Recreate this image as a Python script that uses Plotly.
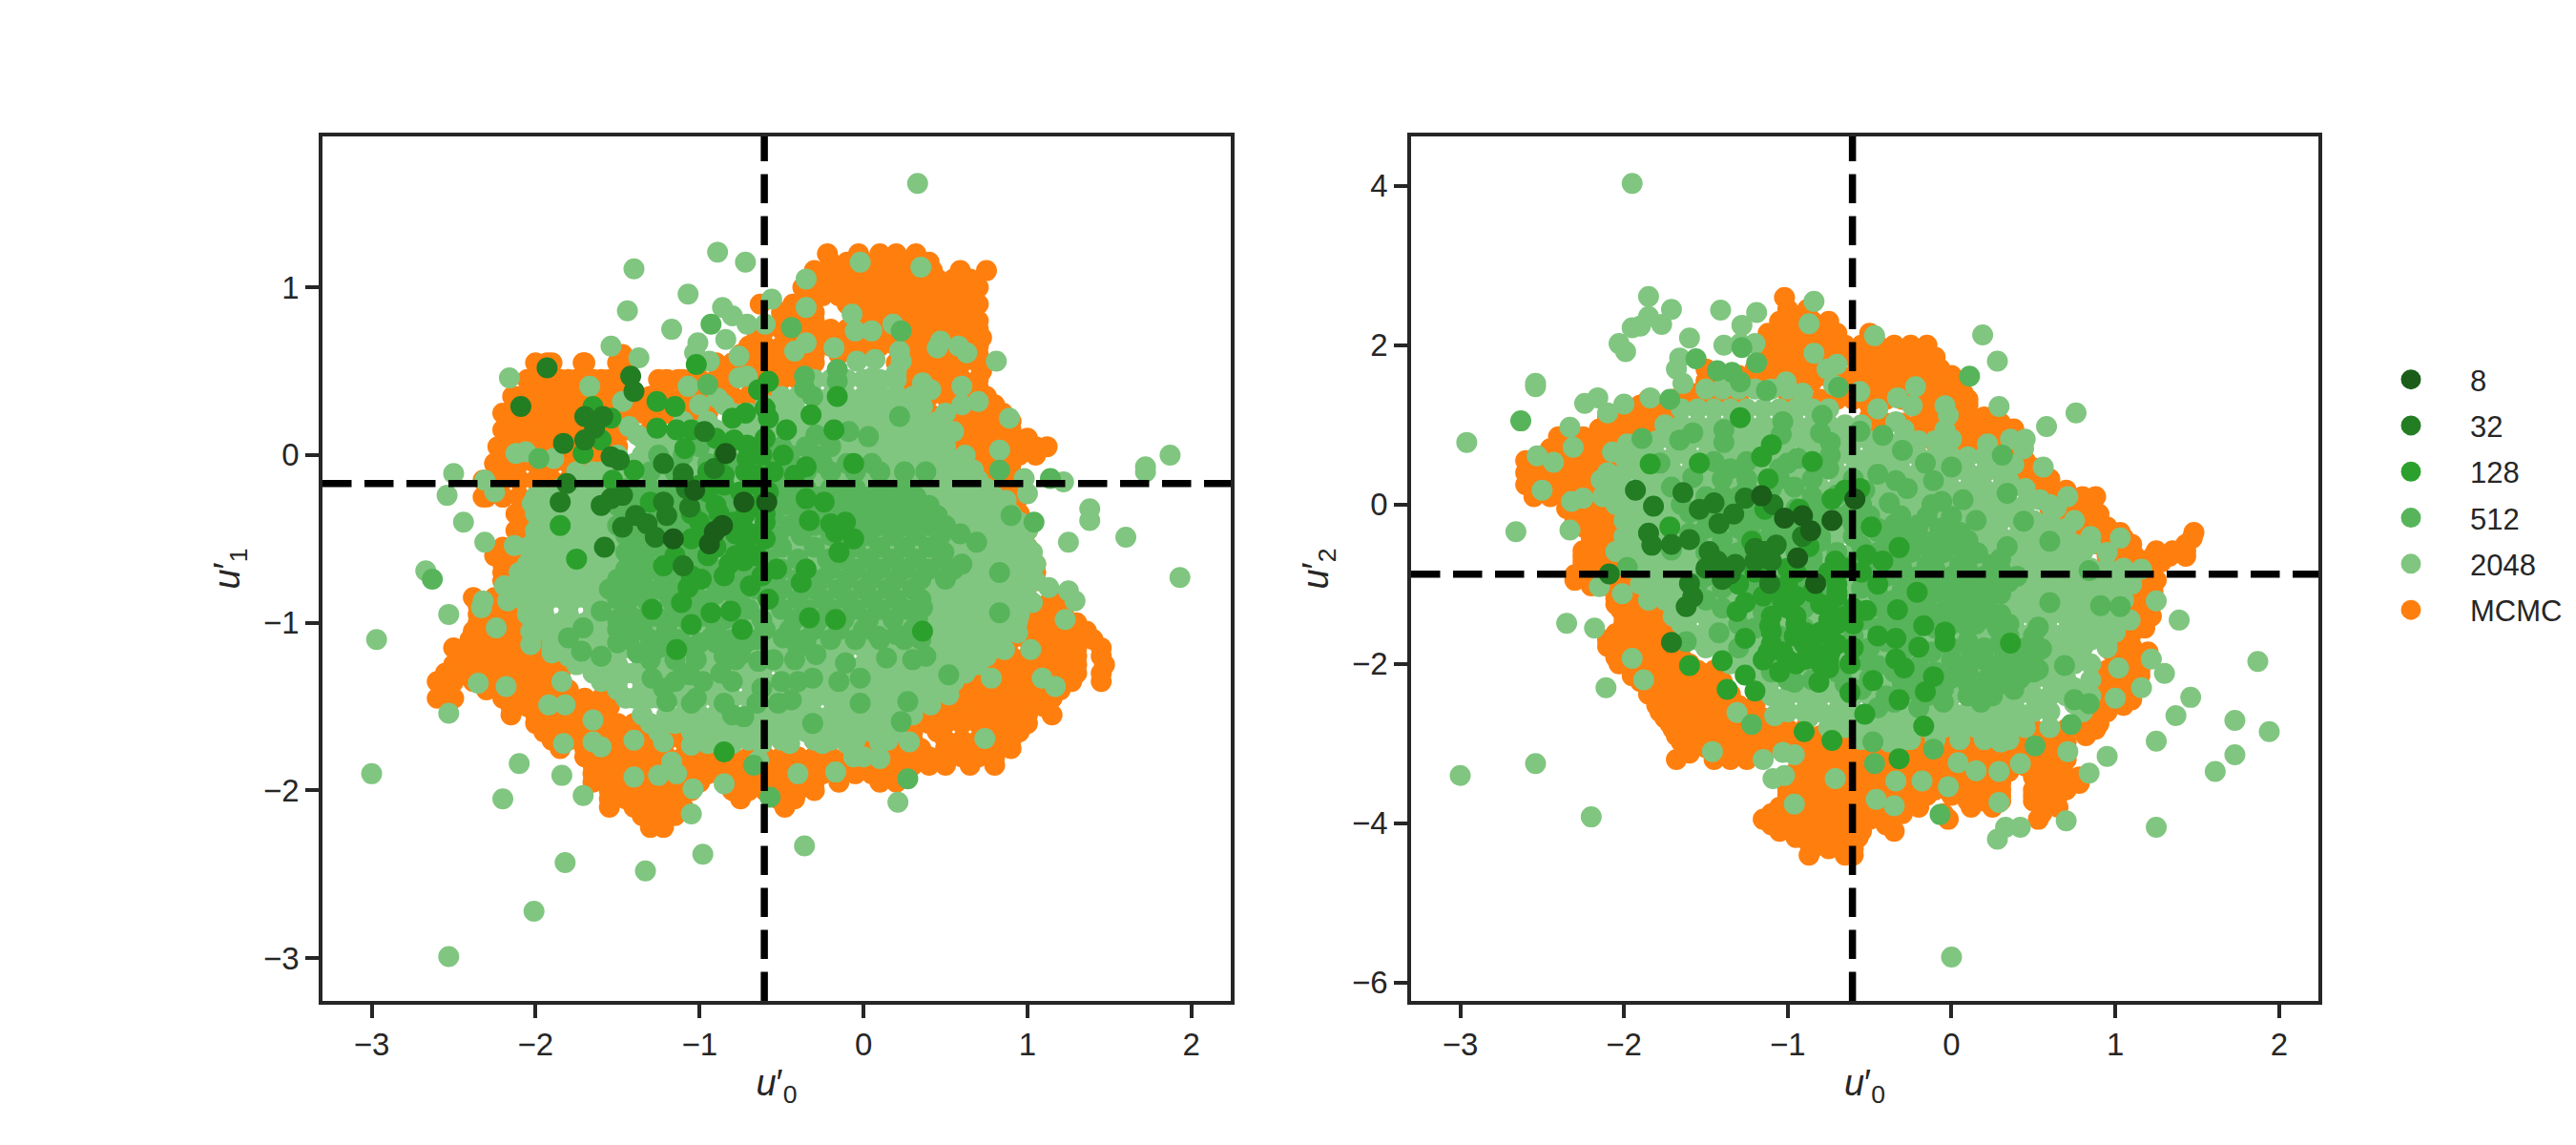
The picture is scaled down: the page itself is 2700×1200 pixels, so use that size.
import plotly.graph_objects as go

# Sample clouds are stored as rows: (y value, [x values at that y]).
COLORS = {"8": "#1a5e1a", "32": "#237d23", "128": "#2ca02c", "512": "#57b45a", "2048": "#80c680", "MCMC": "#ff7f0e"}
series_order = ["MCMC", "2048", "512", "128", "32", "8"]
legend_order = ["8", "32", "128", "512", "2048", "MCMC"]

x_ticks = [-3, -2, -1, 0, 1, 2]
y_ticks_left = [-3, -2, -1, 0, 1]
y_ticks_right = [-6, -4, -2, 0, 2, 4]
x_range = [-3.30, 2.24]
y_range_left = [-3.255, 1.90]
y_range_right = [-6.23, 4.62]
ref_u0 = -0.605
ref_u1 = -0.17
ref_u2 = -0.875

# ---- u0 vs u1 ----
mcmc_left = [
 (1.2,[-.22,-.03,.1,.2,.32]),
 (1.1,[-.3,-.22,-.13,-.04,.05,.14,.23,.32,.42,.59,.75]),
 (1.0,[-.37,-.28,-.18,-.1,0,.1,.2,.3,.4,.48,.62,.7]),
 (.9,[-.63,-.43,-.33,-.1,-.02,.08,.18,.28,.38,.48,.62,.7]),
 (.8,[-.5,-.4,-.3,-.05,0,.1,.2,.3,.4,.5,.6,.7]),
 (.7,[-.65,-.45,-.3,-.2,.1,.3,.4,.5,.6,.72]),
 (.6,[-1.47,-.75,-.62,-.5,-.3,-.15,.35,.45,.55,.7]),
 (.55,[-1.93,-1.71,-1.45]),
 (.5,[-.8,-.65,-.5,-.35,.3,.4,.5,.72]),
 (.45,[-2.05,-1.95,-1.85,-1.75,-1.65,-1.55,-1.45,-1.25,-1.13,-1.0]),
 (.4,[-.85,-.55,.3,.5,.7]),
 (.35,[-2.14,-2.04,-1.94,-1.84,-1.74,-1.6,-1.5,-1.3,-1.2,-1.1,-1,-.85,-.7]),
 (.3,[.55,.7,.8]),
 (.25,[-2.2,-2.1,-2,-1.9,-1.8,-1.7,-1.4,-1.3,-1.2,-1.1,-.95]),
 (.2,[.25,.6,.75,.9]),
 (.15,[-2.2,-2.1,-2,-1.9,-1.8,-1.7,-1.45,-1.3]),
 (.1,[.65,.8,.9,1.0]),
 (.05,[-2.23,-2.1,-2,-1.9,-1.75,-1.5,-1.3,-1.2,1.05,1.12]),
 (0,[.3,.7,.85,.95,1.05]),
 (-.05,[-2.25,-2.15,-1.95,-1.8,-1.65]),
 (-.1,[.7,.8,.9]),
 (-.15,[-2.32,-2.2,-2.1,-1.95,-1.8,-1.65]),
 (-.25,[-2.32,-2.2,-2.1,-1.8,.85,.95]),
 (-.35,[-2.12,-2.05,.85,.95]),
 (-.45,[-2.12,-2,.85,.95]),
 (-.55,[.9,1.0]),
 (-.6,[-2.25,-2.15,-2.05]),
 (-.7,[-2.2,-2.1,-1.95,.95,1.05]),
 (-.85,[-2.38,-2.25,-2.1,1.15]),
 (-.95,[-2.35,-2.2,-2.05,1.1,1.22]),
 (-1.05,[-2.38,-2.28,-2.13,-2.03,1.1,1.2,1.36]),
 (-1.15,[-2.5,-2.4,-2.25,-2.15,-2.0,1.1,1.2,1.3,1.45]),
 (-1.25,[-2.5,-2.4,-2.3,-2.2,-2.1,-2,-1.9,.9,1,1.1,1.2,1.3,1.47]),
 (-1.35,[-2.6,-2.5,-2.38,-2.28,-2.2,-2.1,-1.95,-1.85,.7,.8,.9,1,1.1,1.2,1.27,1.45]),
 (-1.45,[-2.6,-2.5,-2.2,-2.1,-1.95,-1.85,-1.7,-1.6,.55,.65,.75,.85,.95,1.05,1.15]),
 (-1.55,[-2.15,-2.0,-1.9,-1.8,-1.7,-1.6,.5,.6,.7,.8,.9,1,1.15]),
 (-1.65,[-1.95,-1.85,-1.75,-1.6,-1.5,-1.4,-.7,.3,.45,.75,.85,.95]),
 (-1.75,[-1.85,-1.7,-1.5,-1.4,-1.3,-.9,0,.1,.2,.35,.5,.6,.7,.8,.9]),
 (-1.85,[-1.65,-1.55,-1.45,-1.3,-1,-.9,-.75,-.55,-.45,-.3,-.2,-.05,.1,.3,.4,.5,.65,.8]),
 (-1.95,[-1.65,-1.55,-1.4,-1.3,-1.2,-1.1,-1,-.8,-.7,-.6,-.5,-.4,-.3,-.15,.1,.2]),
 (-2.05,[-1.55,-1.45,-1.35,-1.25,-1.15,-.75,-.52,-.42]),
 (-2.15,[-1.35,-1.25,-1.15]),
 (-2.22,[-1.3,-1.22]),
]
mcmc_left_dense = [
 (1.15,[-.2,-.1,0,.1,.2,.3,.4]),
 (1.05,[-.25,-.15,-.05,.05,.15,.25,.35,.45,.55,.65]),
 (.95,[-.35,-.25,-.15,-.05,.05,.15,.25,.35,.45,.55,.65]),
 (.85,[-.5,-.4,-.3,-.05,.05,.15,.25,.35,.45,.55,.65]),
 (.75,[-.6,-.5,-.4,-.3,-.2,-.1,0,.1,.2,.3,.4,.5,.6,.7]),
 (.65,[-.7,-.6,-.5,-.4,-.3,-.2,-.1,0,.1,.2,.3,.4,.5,.6,.7]),
 (.55,[-2,-1.9,-1.7,-1.5,-1,-.9,-.8,-.7,-.6,-.5,-.4,-.3,.2,.3,.4,.5,.6,.7]),
 (.45,[-2,-1.9,-1.8,-1.7,-1.6,-1.5,-1.2,-1.1,-1,-.9,-.8,-.7,-.6,-.5,-.4,.3,.4,.5,.6,.7]),
 (.35,[-2.1,-2,-1.9,-1.8,-1.7,-1.6,-1.5,-1.4,-1.3,-1.2,-1.1,-1,-.9,-.8,-.7,-.6,.4,.5,.6,.7,.75]),
 (.25,[-2.15,-2.05,-1.95,-1.85,-1.75,-1.65,-1.55,-1.45,-1.35,-1.25,-1.15,-1.05,.4,.5,.6,.7,.8,.85]),
 (.15,[-2.15,-2.05,-1.95,-1.85,-1.75,-1.65,-1.55,-1.45,.5,.6,.7,.8,.9]),
 (.05,[-2.2,-2.05,-1.95,-1.85,-1.75,-1.65,-1.55,.5,.6,.7,.8,.9,1]),
 (-.05,[-2.25,-2.1,-2,-1.9,-1.7,-1.6,.6,.7,.8,.9]),
 (-.15,[-2.3,-2.2,-2.1,-2,-1.9,-1.7,-1.6,.7,.8,.9]),
 (-.25,[-2.3,-2.2,-2.1,-2,.8,.9]),
 (-.35,[-2.1,-2,.85,.95]),
 (-.45,[-2.1,-2,.9,1]),
 (-.55,[-2.2,-2.1,-2,.9,1]),
 (-.65,[-2.2,-2.1,-2,.95,1.05]),
 (-.75,[-2.2,-2.1,-2,1,1.05]),
 (-.9,[-2.35,-2.25,-2.15,-2.05,1,1.1,1.2]),
 (-1.0,[-2.35,-2.25,-2.15,-2.05,1,1.1,1.2,1.3]),
 (-1.1,[-2.4,-2.3,-2.2,-2.1,-2,.9,1,1.05,1.15,1.25,1.4]),
 (-1.2,[-2.45,-2.35,-2.25,-2.15,-2.05,-1.95,.8,.9,1,1.1,1.2,1.3,1.45]),
 (-1.3,[-2.55,-2.45,-2.35,-2.25,-2.15,-2.05,-1.95,-1.85,.7,.8,.9,1,1.1,1.2,1.3,1.45]),
 (-1.4,[-2.55,-2.3,-2.2,-2.1,-2,-1.9,-1.8,.6,.7,.8,.9,1,1.1,1.2]),
 (-1.5,[-2.15,-2.05,-1.95,-1.85,-1.75,-1.65,-1.55,.4,.5,.6,.7,.8,.9,1,1.1]),
 (-1.6,[-2,-1.9,-1.8,-1.7,-1.6,-1.5,-1.4,.3,.4,.5,.6,.7,.8,.9,1]),
 (-1.7,[-1.9,-1.8,-1.7,-1.6,-1.5,-1.4,-1.3,-1.2,-1.1,-.9,-.7,-.5,-.3,-.1,.1,.3,.5,.6,.7,.8,.9]),
 (-1.8,[-1.7,-1.6,-1.5,-1.4,-1.3,-1.2,-1.1,-1,-.9,-.8,-.7,-.6,-.5,-.4,-.3,-.2,-.1,0,.1,.2,.3,.4,.5,.6,.7,.8]),
 (-1.9,[-1.65,-1.55,-1.45,-1.35,-1.25,-1.15,-1.05,-.95,-.85,-.75,-.65,-.55,-.45,-.35,-.25,-.15,-.05,.05,.15,.25]),
 (-2.0,[-1.55,-1.45,-1.35,-1.25,-1.15,-1.05,-.8,-.7,-.6,-.5,-.4,-.3]),
 (-2.1,[-1.55,-1.4,-1.3,-1.2,-1.1,-.48]),
 (-2.2,[-1.25]),
]
s2048_left = [
 (1.62,[.33]),(1.21,[-.89]),(1.15,[-.72,-.02]),(1.12,[.35]),(1.11,[-1.4]),(1.05,[-.35]),
 (.96,[-1.07]),(.93,[-.56]),(.88,[-.86,-.35]),(.86,[-1.44]),(.84,[-.07]),(.83,[-.8]),
 (.78,[-.71,-.6,.18]),(.75,[-1.17]),(.74,[-.05,.05]),(.69,[-.84]),(.67,[-1.01,-.35]),(.68,[.47]),
 (.65,[-1.54,.58]),(.64,[-.18,.45]),(.62,[-.42,.22]),(.61,[-1.03,.63]),(.59,[-.76]),(.58,[-1.37]),
 (.57,[.07]),(.56,[-.94,-.04,.23,.81]),(.49,[.2]),(.47,[-.71]),(.46,[-2.16,-.76,.05,.18]),
 (.43,[.36]),(.41,[-1.67,-1.07,.6]),(.39,[.41]),(.38,[.09]),(.36,[.2]),(.34,[-.89]),
 (.32,[-1.47,.7]),(.3,[-1.0,-.85,-.6,-.45,-.25,-.1,.05,.2,.6]),(.29,[.36]),(.25,[.5]),(.22,[.89]),
 (.2,[-1.1,-.95,-.8,-.6,-.45,-.3,-.15,0,.15,.3,.45]),(.17,[-1.43]),(.14,[.55]),
 (.12,[-1.38]),(.1,[-1.35,-1.2,-1.05,-.9,-.75,-.6,-.45,-.3,-.15,0,.15,.3,.45]),
 (.06,[.4]),(.03,[.83]),(.02,[-2.06,.5]),(.01,[-2.12]),(0,[-1.5,-1.35,-1.2,-1.05,-.9,-.75,-.6,-.45,-.3,-.15,0,.15,.3,.62,1.87]),
 (-.02,[-1.89]),(-.07,[1.72]),(-.09,[.67]),(-.1,[-1.75,-1.6,-1.45,-1.3,-1.15,-1,-.85,-.7,-.55,-.4,-.25,-.1,.05,.2,.35,.5,1.72]),
 (-.11,[-2.5]),(-.14,[.98]),(-.15,[-2.31]),(-.16,[1.22]),(-.22,[-2.25]),(-.23,[1.0]),(-.24,[-2.54]),
 (-.25,[-2.0,-1.85,-1.7,-1.55,.2,.35,.5,.65,.8]),(-.27,[.87]),(-.29,[-2.02]),(-.32,[1.38]),
 (-.39,[1.38]),(-.4,[-2.44,-1.96,-1.85,-1.7,-1.55,-1.4,-.9,.35,.5,.65,.8,.95]),(-.45,[-1.96]),
 (-.49,[1.6]),(-.52,[-2.31,1.25]),(-.54,[-2.13,-1.88]),(-.55,[-2,-1.85,-1.7,-1.55,-1.4,.35,.5,.65,.8,.95]),
 (-.58,[1.03]),(-.69,[-2.67]),(-.7,[-2.1,-1.95,-1.8,-1.65,-1.5,.3,.45,.6,.75,.9,1.0]),(-.73,[1.93]),
 (-.78,[-2.19]),(-.79,[1.13]),(-.81,[1.25]),(-.85,[-2.05,-1.9,-1.75,-1.6,.4,.55,.7,.85,.98]),
 (-.87,[-2.32,-2.17,1.29]),(-.88,[1.03]),(-.91,[-2.33,-1.97]),(-.95,[-2.53]),(-.98,[1.23]),(-.99,[.94]),
 (-1.0,[-2,-1.85,-1.7,-1.55,-.6,.5,.65,.8]),(-1.03,[-2.24]),(-1.05,[-2.03]),(-1.06,[.94]),(-1.1,[-2.97]),
 (-1.13,[-2.03]),(-1.15,[-1.7,-1.55,-1.4,.45,.55,.65]),(-1.16,[.86,1.02]),(-1.18,[-1.9]),
 (-1.3,[-1.55,-1.4,-1.25,-1.1,-.75,-.2,-.05,.1,.25,.4,.6]),(-1.33,[.78,1.09]),(-1.34,[.4]),(-1.35,[-1.84]),
 (-1.36,[-2.35]),(-1.38,[-2.18,1.17]),(-1.43,[.52]),(-1.45,[-1.4,-1.25,-1.1,-.9,-.7,-.55,-.3,-.15,.15,.3]),
 (-1.49,[-1.92,-1.82,.41]),(-1.54,[-2.53]),(-1.58,[-1.65]),(-1.6,[-1.3,-1.15,-1,-.85,-.7,-.55,-.4,-.15,0,.15]),
 (-1.69,[.74]),(-1.7,[-1.4]),(-1.71,[-1.65,-1.22,.28]),(-1.72,[-1.83,-.95,-.8,-.62,-.45,-.25,-.1,.1]),
 (-1.73,[-1.05]),(-1.74,[-1.6]),(-1.8,[-.06,0]),(-1.81,[.1]),(-1.82,[-.64]),(-1.83,[-1.17]),(-1.84,[-2.1]),
 (-1.89,[-.17]),(-1.9,[-3.0,-1.14,-.4]),(-1.91,[-1.84,-1.25]),(-1.92,[-1.4]),(-1.96,[-.85]),(-1.99,[-1.04]),
 (-2.03,[-1.71]),(-2.05,[-2.2]),(-2.07,[.21]),(-2.14,[-1.05]),(-2.33,[-.36]),(-2.38,[-.98]),(-2.43,[-1.82]),
 (-2.48,[-1.33]),(-2.72,[-2.01]),(-2.99,[-2.53]),
]
s2048_left_dense = [
 (.45,[-.3,-.2,-.1,0,.1,.2]),
 (.35,[-.5,-.4,-.3,-.2,-.1,0,.1,.2,.3]),
 (.25,[-.8,-.7,-.6,-.5,-.4,-.3,-.2,-.1,0,.1,.2,.3]),
 (.2,[-.75,-.65,-.55,-.35,-.25,-.05,.05,.25,.35]),
 (.15,[-1.1,-1,-.9,-.8,-.7,-.6,-.5,-.4,-.3,-.2,-.1,0,.1,.2,.3,.4]),
 (.1,[-1.15,-.95,-.85,-.65,-.55,-.35,-.25,-.05,.05,.25,.35]),
 (.05,[-1.3,-1.2,-1.1,-1,-.9,-.8,-.7,-.6,-.5,-.4,-.3,-.2,-.1,0,.1,.2,.3,.4,.5]),
 (-.05,[-1.5,-1.4,-1.3,-1.2,-1.1,-1,-.9,-.8,-.7,-.6,-.5,-.4,-.3,-.2,-.1,0,.1,.2,.3,.4,.5,.6]),
 (-.1,[-1.65,-1.55,-1.35,-1.25,-1.05,-.95,-.75,-.65,-.45,-.35,-.15,-.05,.15,.25,.45,.55]),
 (-.15,[-1.7,-1.6,-1.5,-1.4,-1.3,-1.2,-1.1,-1,-.9,-.8,-.7,-.6,-.5,-.4,-.3,-.2,-.1,0,.1,.2,.3,.4,.5,.6,.7]),
 (-.2,[-1.85,-1.75,-1.65,-1.55,-1.45,-1.35,-.05,.05,.15,.25,.35,.45,.55,.65,.75]),
 (-.25,[-1.95,-1.8,-1.65,-1.45,-1.3,-1.2,-1.1,-1,-.9,-.8,-.7,-.6,-.5,-.4,-.3,-.2,-.1,0,.1,.3,.45,.6,.75]),
 (-.3,[-1.95,-1.85,-1.75,-1.65,-1.55,-1.45,.05,.15,.25,.35,.45,.55,.65,.75,.85]),
 (-.35,[-2,-1.9,-1.8,-1.7,-1.6,-1.5,-1.4,-1.3,-1.2,-1.1,-1,-.9,-.8,-.7,-.6,-.5,-.4,-.3,-.2,-.1,0,.1,.2,.3,.4,.5,.6,.7,.8,.9]),
 (-.4,[-1.95,-1.75,-1.65,-1.45,.25,.45,.55,.75,.85]),
 (-.45,[-2,-1.9,-1.8,-1.7,-1.6,-1.5,-1.4,-1.3,-1.2,-1.1,-1,-.9,-.8,-.7,-.6,-.5,-.4,-.3,-.2,-.1,0,.1,.2,.3,.4,.5,.6,.7,.8,.9,1]),
 (-.5,[-2,-1.9,-1.75,-1.65,-1.45,-1.25,-1.05,-.85,-.65,-.45,-.25,-.05,.15,.35,.45,.55,.75,.85,.95]),
 (-.55,[-2.05,-1.95,-1.8,-1.65,-1.5,-1.3,-1.2,-1.1,-1,-.9,-.8,-.7,-.6,-.5,-.4,-.3,-.2,-.1,0,.1,.2,.3,.45,.6,.75,.9,1]),
 (-.6,[-2,-1.9,-1.75,-1.6,-1.45,-1.25,-1.05,-.85,-.65,-.45,-.25,-.05,.15,.35,.5,.7,.85,.95]),
 (-.65,[-2.05,-1.95,-1.85,-1.75,-1.65,-1.55,-1.45,-1.35,-1.25,-1.15,-1.05,-.95,-.85,-.75,-.65,-.55,-.45,-.35,-.25,-.15,-.05,.05,.15,.25,.35,.45,.55,.65,.75,.85,.95,1.05]),
 (-.7,[-2.05,-1.9,-1.7,-1.55,-1.4,-1.2,-1,-.8,-.6,-.4,-.2,0,.2,.4,.5,.7,.8,.95]),
 (-.75,[-2.1,-2,-1.9,-1.75,-1.6,-1.45,-1.35,-1.25,-1.15,-1.05,-.95,-.85,-.75,-.65,-.55,-.45,-.35,-.25,-.15,-.05,.05,.15,.25,.4,.55,.7,.85,1,1.05]),
 (-.8,[-2.05,-1.95,-1.8,-1.65,-1.5,-.2,.1,.3,.45,.6,.75,.92]),
 (-.85,[-2.1,-2,-1.85,-1.7,-1.5,-1.4,-1.3,-1.2,-1.1,-1,-.9,-.8,-.7,-.6,-.5,-.4,-.3,-.2,-.1,0,.1,.2,.3,.5,.65,.8,.95,1]),
 (-.9,[-2.05,-1.95,-1.8,-1.65,-1.45,-1.25,-1.05,-.85,-.65,-.45,-.25,-.05,.15,.35,.45,.6,.75,.9]),
 (-.95,[-2.05,-1.95,-1.8,-1.65,-1.5,-1.4,-1.3,-1.2,-1.1,-1,-.9,-.8,-.7,-.6,-.5,-.4,-.3,-.2,-.1,0,.1,.2,.3,.4,.55,.7,.85,.95]),
 (-1.0,[-1.95,-1.8,-1.65,-1.45,-1.25,-1.05,-.85,-.65,-.45,-.25,-.05,.15,.35,.45,.6,.75,.88]),
 (-1.05,[-2,-1.9,-1.75,-1.6,-1.45,-1.35,-1.25,-1.15,-1.05,-.95,-.85,-.75,-.65,-.55,-.45,-.35,-.25,-.15,-.05,.05,.15,.25,.4,.6,.75,.9]),
 (-1.1,[-1.9,-1.8,-1.65,-1.5,-1.4,-1.2,-1,-.8,-.6,-.4,-.2,0,.2,.35,.5,.7,.82]),
 (-1.15,[-1.9,-1.8,-1.6,-1.45,-1.3,-1.2,-1.1,-1,-.9,-.8,-.7,-.6,-.5,-.4,-.3,-.2,-.1,0,.1,.2,.3,.4,.5,.6,.7,.8]),
 (-1.2,[-1.8,-1.65,-1.55,-1.35,-1.15,-.95,-.75,-.55,-.35,-.15,.05,.25,.45,.55,.65,.75]),
 (-1.25,[-1.75,-1.65,-1.5,-1.35,-1.2,-1.1,-1,-.9,-.8,-.7,-.6,-.5,-.4,-.3,-.2,-.1,0,.1,.2,.3,.45,.55,.7]),
 (-1.3,[-1.65,-1.45,-1.15,-.95,-.65,-.45,-.3,-.15,.0,.15,.35,.5,.62]),
 (-1.35,[-1.6,-1.5,-1.35,-1.2,-1.1,-1,-.9,-.8,-.7,-.6,-.5,-.4,-.3,-.2,-.1,0,.1,.2,.3,.45,.55]),
 (-1.4,[-1.5,-1.35,-1.15,-1,-.85,-.65,-.45,-.25,-.1,.05,.25,.35,.47]),
 (-1.45,[-1.45,-1.3,-1.2,-1,-.8,-.6,-.45,-.35,-.2,-.05,.05,.2,.35,.4]),
 (-1.55,[-1.35,-1.2,-1.1,-1,-.9,-.8,-.7,-.6,-.5,-.4,-.3,-.2,-.1,0,.1,.2,.3]),
 (-1.65,[-1.25,-1.05,-.95,-.85,-.75,-.65,-.55,-.45,-.35,-.25,-.15,-.05,.05,.2]),
 (-1.7,[-.9,-.7,-.5,-.3,-.2,-.05,.15]),
]
s512_left = [
 (.78,[-.93]),(.76,[-.44]),(.74,[.23]),(.51,[-.16]),(.47,[-.36]),(.44,[-.16]),(.42,[-.95]),(.4,[-.36]),
 (.35,[-.31]),(.23,[.22]),(.14,[-.09]),(.12,[-.29]),(.11,[.03]),(-.02,[-1.98]),
 (0,[-1.25,-1.1,-.6,-.45,-.3]),(-.09,[.83]),(-.1,[-1.3,-1.15,-.5,-.35,-.2,-.05,.1,.25,.38]),(-.14,[1.14]),
 (-.2,[-1.45,-1.3,-1.15,-1,-.85,-.7,-.5,-.35,-.2,-.05,.1,.25]),(-.3,[-1.5,-1.35,-1.2,-1.05,-.9,-.75,-.5,-.35,-.2,-.05,.1,.25,.4]),
 (-.36,[.9]),(-.4,[1.04]),(-.42,[-1.5,-1.35,-1.15,-1,-.85,-.6,-.45,-.3,-.05,.1,.25,.4,.5]),(-.47,[.59]),(-.52,[.69]),
 (-.55,[-1.4,-1.25,-1.05,-.85,-.65,-.5,-.3,-.05,.1,.25,.4]),(-.58,[.49]),(-.65,[.6]),
 (-.68,[-1.45,-1.3,-1.15,-1,-.85,-.65,-.5,-.2,-.05,.1,.25,.4,.55]),(-.7,[.83]),(-.74,[-2.63]),
 (-.8,[-1.55,-1.4,-1.25,-1.1,-.85,-.65,-.5,-.3,-.15,0,.15,.3]),(-.86,[-1.43]),(-.91,[.36]),(-.93,[-1.6]),
 (-.92,[-1.45,-1.3,-1.15,-1,-.7,-.5,-.35,-.2,-.05,.1,.25]),(-.94,[.83]),(-1.03,[-1.71,-1.44]),
 (-1.04,[-1.5,-1.35,-1.2,-.9,-.6,-.45,-.3,-.15,0,.3]),(-1.07,[.2]),(-1.08,[.09]),(-1.09,[-1.8,-.93,-.49]),
 (-1.15,[-.4,-1.25,-1.05]),(-1.17,[-1.72]),(-1.18,[-1.38]),(-1.19,[-.29,-.75]),(-1.2,[-1.6,-.85,.38]),
 (-1.21,[.14]),(-1.22,[.3]),(-1.23,[-.64]),(-1.24,[-.11]),(-1.3,[-.87,-1.1]),(-1.31,[-1.06,.52]),
 (-1.33,[-1.29,-.31,-.02]),(-1.39,[-1.22,-.62]),(-1.45,[-1.02]),(-1.46,[-.44]),(-1.47,[-1.2,.27]),(-1.48,[-.02]),
 (-1.55,[-.8]),(-1.56,[-.73]),(-1.59,[.23]),(-1.6,[-.31]),(-1.85,[-.67]),(-1.93,[.27]),(-2.04,[-.57]),
 (-.25,[-1.4,-1.25,-1.1,-.95,-.8,-.6,-.42,-.27,-.12,.03,.18,.32]),
 (-.36,[-1.42,-1.28,-1.12,-.97,-.8,-.55,-.4,-.25,-.12,.03,.18,.32,.45]),
 (-.48,[-1.45,-1.3,-1.1,-.95,-.75,-.52,-.38,-.2,-.12,.03,.18,.32,.47]),
 (-.62,[-1.35,-1.15,-.95,-.75,-.58,-.4,-.22,-.12,.03,.18,.32,.48]),
 (-.74,[-1.5,-1.35,-1.2,-1.05,-.92,-.75,-.58,-.4,-.25,-.1,.05,.2,.35,.5]),
 (-.86,[-1.5,-1.33,-1.18,-1,-.78,-.58,-.4,-.25,-.1,.05,.2,.35]),
 (-.98,[-1.5,-1.38,-1.22,-1.08,-.85,-.62,-.42,-.27,-.12,.03,.18,.33]),
 (-1.1,[-1.43,-1.3,-1.12,-.8,-.65,-.35,-.2,-.05,.1,.25,.35]),
 (.05,[-1.0,-.85,-.7,-.5,-.35,-.2]),(-.05,[-.95,-.8,-.65,-.25,-.1,.05]),
 (-.33,[-1.45,-1.3,-1.15,-1,-.85]),(-.45,[-1.4,-1.25,-1.05,-.9]),(-.58,[-1.45,-1.32,-1.18,-1.0,-.78]),
 (-.71,[-1.38,-1.22,-1.08,-.95,-.78]),(-.83,[-1.47,-1.32,-1.17,-1.03,-.9,-.75]),(-.96,[-1.42,-1.27,-1.13,-.98,-.8]),
 (-1.12,[-1.5,-1.22,-1.0,-.9,-.72]),(-1.22,[-1.3,-1.15,-1.02,-.78,-.55,-.42]),(-1.35,[-1.15,-.98,-.8,-.5,-.4,-.15]),
 (-1.48,[-1.05,-.85,-.65,-.52]),
]
s128_left = [
 (.54,[-1.02]),(.44,[-.58]),(.39,[-.64]),(.35,[-.16]),(.32,[-1.26]),(.29,[-1.15,-1.65]),(.28,[-.6]),
 (.25,[-.72]),(.24,[-.32]),(.22,[-1.54,-.8,-.58]),(.16,[-1.26]),(.15,[-1.14,-1.05,-.47,-.18]),(.09,[-.79,-1.6]),
 (.06,[-.71]),(.04,[-1.09]),(.01,[-1.71]),(0,[-.49]),(-.02,[-.71]),(-.05,[-.06]),(-.07,[-.35]),(-.09,[-1.4]),
 (-.12,[-.42,-.85,-.65]),(-.15,[-1.53]),(-.22,[-.95,-.75,-.58]),(-.26,[-.35]),(-.28,[-.24,-1.3]),(-.3,[-.9,-.65]),
 (-.39,[-.33]),(-.4,[-.11,-1.0,-.8,-.6]),(-.41,[-.2]),(-.42,[-1.85]),(-.44,[-.73]),(-.46,[-.17]),(-.5,[-.06,-1.05,-.6]),
 (-.55,[-.9,-.72]),(-.58,[-.15]),(-.62,[-1.75]),(-.63,[-.73]),(-.65,[-.82]),(-.66,[-1.22]),(-.68,[-.35,-.53]),
 (-.74,[-.99]),(-.76,[-.38]),(-.78,[-.69]),(-.79,[-1.07]),(-.86,[-.58]),(-.88,[-1.11]),(-.92,[-1.29]),(-.93,[-.81]),
 (-.94,[-.93]),(-.97,[-.33]),(-.98,[-.17]),(-1.01,[-1.05]),(-1.04,[-.74]),(-1.05,[.36]),(-1.16,[-1.14]),(-1.77,[-.85]),
 (.1,[-.9,-.6]),(0,[-.85,-.62]),(-.1,[-.95,-.72,-.55]),(-.18,[-1.0,-.85,-.65]),(-.35,[-1.05,-.88,-.72,-.6]),
 (-.47,[-.98,-.78,-.65]),(-.6,[-1.15,-.95,-.78,-.65]),(-.72,[-1.05,-.85,-.62]),
]
s32_left = [
 (.52,[-1.93]),(.47,[-1.42]),(.38,[-1.4]),(.29,[-2.09]),(.23,[-1.7,-1.59]),(.16,[-1.64]),(.14,[-.97]),(.09,[-1.7]),
 (.07,[-1.83]),(-.01,[-1.54]),(-.03,[-1.49]),(-.05,[-1.22]),(-.08,[-.91]),(-.11,[-1.1]),(-.17,[-1.81]),(-.24,[-1.47]),
 (-.26,[-1.54]),(-.28,[-1.85,-1.22]),(-.3,[-1.6]),(-.31,[-1.06]),(-.36,[-1.2,-1.39]),(-.41,[-1.32]),(-.43,[-1.47]),
 (-.49,[-1.27]),(-.55,[-1.58]),(-.66,[-1.1]),(-.2,[-1.08]),(-.15,[-1.1]),(-.45,[-.9]),
]
s8_left = [
 (.01,[-.84]),(-.21,[-1.03]),(-.28,[-.73,-.59]),(-.42,[-.86]),(-.46,[-.91]),(-.5,[-1.16]),(-.53,[-.94]),
]

# ---- u0 vs u2 ----
mcmc_right = [
 (2.6,[-1.02]),(2.45,[-1.0,-.88]),(2.3,[-1.05,-.95,-.85,-.75]),(2.15,[-1.12,-1,-.9,-.8,-.7,-.5]),
 (2.0,[-1.15,-1.05,-.95,-.85,-.75,-.65,-.55,-.45,-.35,-.25,-.15]),(1.85,[-1.1,-1,-.9,-.8,-.7,-.6,-.5,-.4,-.3,-.2,-.1]),
 (1.7,[-1.5,-1.2,-1.05,-.95,-.85,-.55,-.45,-.35,-.25,-.15,-.07]),(1.55,[-1.5,-1.25,-1.05,-.95,-.85,-.55,-.45,-.35,-.25,-.15,-.05,.05]),
 (1.4,[-1.55,-1,-.5,-.4,-.3,-.2,-.1,0,.07]),(1.25,[-2,-1.9,-1.75,-.5,-.1,0,.1]),(1.1,[-2.1,-2,-1.9,-1.8,-.5,-.15,.1,.2]),
 (.95,[-2.15,-2.05,-1.95,-1.85,-.45,-.2,.1,.2,.3,.38]),(.85,[-2.4,-2.25,-2.15,-2.05,-1.95,-.2,0,.1,.2,.3,.38]),
 (.7,[-2.45,-2.3,-2.2,-2.1,0,.1,.2,.3]),(.55,[-2.6,-2.35,-2.25,-2.1,.35,.45]),(.4,[-2.6,-2.45,-2.35,-2.25,.3,.45,.55]),
 (.25,[-2.6,-2.5,-2.4,-2.3,-2.2,.45,.6]),(.1,[-2.55,-2.45,-2.35,-2.25,.55,.7,.8,.88]),(-.05,[-2.35,-2.25,-2.15,.6,.75,.85]),
 (-.2,[-2.3,-2.2,-2.1,.7,.8,.9]),(-.35,[-2.2,-2.1,.8,.95,1.03,1.48]),(-.5,[-2.2,-2.1,-2,.9,1,1.1,1.43]),
 (-.65,[-2.25,-2.15,-2.05,-1.95,.95,1.05,1.12,1.23,1.33,1.43]),(-.8,[-2.25,-2.15,-2,1.05,1.15,1.22]),
 (-.95,[-2.3,-2.2,-2.05,-1.95,1.1,1.2,1.25]),(-1.1,[-2.02,-1.95,-1.85,1.15,1.23]),(-1.25,[-2.05,-1.95,-1.85,1.1]),
 (-1.4,[-2,-1.9,-1.8,1.15,1.22]),(-1.55,[-2,-1.9,-1.75,1.1,1.18]),(-1.7,[-2.1,-2,-1.9,-1.8,1.02]),
 (-1.85,[-2.05,-1.95,-1.85,-1.72,.98,1.1,1.2]),(-2.0,[-2.03,-1.9,-1.8,-1.7,-1.6,1,1.12]),
 (-2.15,[-1.95,-1.85,-1.72,-1.6,-1.5,.95,1.05,1.15]),(-2.3,[-1.85,-1.75,-1.65,-1.55,-1.45,.95,1.05,1.13]),
 (-2.45,[-1.8,-1.7,-1.6,-1.5,-1.4,1,1.1]),(-2.6,[-1.78,-1.68,-1.58,-1.48,-1.38,-1.25,.9,.95]),
 (-2.75,[-1.72,-1.6,-1.5,-1.4,-1.3,-1.2,-1.1,.82,.9]),(-2.9,[-1.68,-1.55,-1.45,-1.35,-1.25,-1.15,-1.05,-.95,-.8,.55,.68,.82]),
 (-3.05,[-1.6,-1.5,-1.4,-1.3,-1.2,-1.1,-1,-.85,-.7,-.6,-.2,0,.2,.4,.55,.68]),
 (-3.2,[-1.68,-1.45,-1.35,-1.25,-.85,-.7,-.6,-.45,-.3,-.15,0,.15,.3,.45,.6,.7]),
 (-3.35,[-.95,-.8,-.65,-.5,-.35,-.2,-.05,.1,.2,.35,.55,.68]),(-3.5,[-1,-.85,-.7,-.55,-.4,-.25,-.1,.05,.2,.3,.55,.65,.78]),
 (-3.65,[-1,-.85,-.7,-.6,-.45,-.3,-.15,0,.1,.3,.5,.65]),(-3.8,[-1.05,-.9,-.75,-.6,-.5,-.35,-.2,.12,.25,.55,.65]),
 (-3.95,[-1.15,-1.05,-.9,-.75,-.6,-.5,-.36,-.02,.53]),(-4.1,[-1.05,-.9,-.75,-.62,-.55,-.35]),(-4.25,[-.87,-.75,-.63]),(-4.4,[-.87,-.65,-.6]),
]
mcmc_right_dense = [
 (1.92,[-1.15,-1.05,-.95,-.85,-.75,-.65,-.55,-.45,-.35,-.25,-.15]),
 (1.62,[-1.4,-1.3,-1.2,-1.1,-1,-.9,-.8,-.7,-.6,-.5,-.4,-.3,-.2,-.1,0]),
 (1.32,[-1.85,-1.7,-1.6,-1.5,-1.4,-1.3,-.8,-.7,-.6,-.5,-.4,-.3,-.2,-.1,0,.1]),
 (1.02,[-2.1,-2,-1.9,-1.8,-1.7,-.5,-.4,-.3,-.2,-.1,0,.1,.2,.3]),
 (.78,[-2.35,-2.25,-2.15,-2.05,-1.95,-1.85,-.1,0,.1,.2,.3,.38]),
 (.62,[-2.45,-2.35,-2.25,-2.15,-2.05,.1,.2,.3,.4]),
 (.46,[-2.55,-2.4,-2.3,-2.2,-2.1,.3,.4,.5]),
 (.32,[-2.55,-2.45,-2.35,-2.25,-2.15,.4,.5,.6]),
 (.18,[-2.55,-2.45,-2.35,-2.25,-2.15,.5,.6,.7]),
 (.02,[-2.3,-2.2,-2.1,.6,.7,.8]),
 (-.12,[-2.3,-2.2,-2.1,.7,.8,.9]),
 (-.28,[-2.25,-2.15,-2.05,.75,.85,.95]),
 (-.42,[-2.2,-2.1,-2,.85,.95,1.05,1.47]),
 (-.58,[-2.25,-2.15,-2.05,.95,1.05,1.1,1.25,1.35,1.43]),
 (-.72,[-2.25,-2.15,-2.05,-1.95,1,1.1,1.18,1.28]),
 (-.88,[-2.3,-2.2,-2.1,-2,1.1,1.2]),
 (-1.02,[-2.2,-2.1,-2,-1.9,1.1,1.2]),
 (-1.18,[-2.05,-1.95,-1.85,1.1,1.2]),
 (-1.32,[-2.02,-1.92,-1.82,1.05,1.15]),
 (-1.48,[-2,-1.9,-1.8,1.05,1.15]),
 (-1.62,[-2.05,-1.95,-1.85,-1.75,1,1.1]),
 (-1.78,[-2.1,-2,-1.9,-1.8,-1.7,1,1.1]),
 (-1.92,[-2.05,-1.95,-1.85,-1.75,-1.65,1,1.1,1.2]),
 (-2.08,[-1.95,-1.85,-1.75,-1.65,-1.55,-1.45,.95,1.05,1.15]),
 (-2.22,[-1.9,-1.8,-1.7,-1.6,-1.5,-1.4,.95,1.05,1.13]),
 (-2.38,[-1.85,-1.75,-1.65,-1.55,-1.45,-1.35,.9,1,1.1]),
 (-2.52,[-1.8,-1.7,-1.6,-1.5,-1.4,-1.3,-1.2,.85,.95,1.05]),
 (-2.68,[-1.75,-1.65,-1.55,-1.45,-1.35,-1.25,-1.15,-1.05,.8,.9]),
 (-2.82,[-1.7,-1.6,-1.5,-1.4,-1.3,-1.2,-1.1,-1,-.9,.5,.6,.7,.8,.88]),
 (-2.98,[-1.65,-1.5,-1.4,-1.3,-1.2,-1.1,-1,-.9,-.8,-.7,-.6,-.5,-.4,-.3,-.2,-.1,0,.1,.2,.3,.4,.5,.6,.7]),
 (-3.12,[-1.6,-1.45,-1.35,-1.25,-.85,-.75,-.65,-.55,-.45,-.35,-.25,-.15,-.05,.05,.15,.25,.35,.45,.55,.65]),
 (-3.28,[-.9,-.75,-.65,-.55,-.45,-.35,-.25,-.15,-.05,.05,.15,.25,.35,.45,.55,.65]),
 (-3.42,[-1,-.9,-.8,-.7,-.6,-.5,-.4,-.3,-.2,-.1,0,.1,.2,.3,.5,.6,.7,.78]),
 (-3.58,[-1,-.9,-.8,-.7,-.6,-.5,-.4,-.3,-.2,-.1,0,.1,.2,.3,.5,.6,.7]),
 (-3.72,[-1,-.9,-.8,-.7,-.6,-.5,-.4,-.3,-.2,.1,.2,.3,.5,.6]),
 (-3.88,[-1.1,-1,-.9,-.8,-.7,-.6,-.5,-.4,-.3,-.05,.55]),
 (-4.02,[-1.1,-1,-.9,-.8,-.7,-.6,-.55,-.4]),
 (-4.18,[-.95,-.85,-.75,-.65,-.57]),
 (-4.32,[-.85,-.75,-.65,-.6]),
]
s2048_right = [
 (4.03,[-1.95]),(2.61,[-1.85]),(2.55,[-.84]),(2.45,[-1.71]),(2.44,[-1.41]),(2.41,[-1.19]),(2.36,[-1.85]),(2.27,[-.87]),
 (2.26,[-1.77]),(2.25,[-1.28]),(2.24,[-1.9]),(2.22,[-1.95]),(2.13,[.19]),(2.12,[-.47]),(2.09,[-1.6]),(2.02,[-2.03,-1.29,-1.2]),
 (2,[-1.39]),(1.92,[-1.99]),(1.9,[-.84]),(1.84,[-1.66]),(1.8,[.28]),(1.76,[-.7]),(1.7,[-1.68,-.76]),(1.52,[-2.54,-1.64]),
 (1.54,[-1.01]),(1.5,[-.72]),(1.48,[-2.54,-.22]),(1.42,[-.56]),(1.4,[-.91]),(1.34,[-2.16,-1.84,-.33]),(1.27,[-2.24]),
 (1.26,[-2]),(1.24,[-.24,-.04]),(1.23,[.29]),(1.15,[-2.1,.76]),
 (1.12,[-.02]),(1.04,[-.34]),(.98,[.58]),(.97,[-2.33]),(.94,[-.29,-.04]),
 (.82,[0,.36,.45]),(.78,[-2.96]),(.76,[-1.98,.22]),
 (.72,[-2.31]),(.7,[.44]),(.66,[-2.07]),(.61,[-2.53]),
 (.53,[-2.43]),(.5,[.38]),(.47,[.56]),(.31,[-2.14]),
 (.18,[-2.5]),(.1,[-2.13,.71]),(.08,[-2.25]),(.06,[.54]),(.04,[-2.32]),
 (-.04,[.64]),(-.14,[-1.99]),
 (-.32,[-2.33]),(-.34,[-2.66]),(-.42,[1.03]),(-.46,[.49]),
 (-.57,[.76]),(-.59,[-2.05]),
 (-.81,[1.16]),
 (-1.03,[-2.15]),(-1.12,[-2.01]),
 (-1.21,[1.25]),(-1.43,[-1.62]),(-1.45,[1.09,1.39]),(-1.49,[-2.35]),
 (-1.55,[-2.18]),
 (-1.93,[-1.95]),(-1.94,[1.22]),(-1.97,[1.87]),(-2.05,[1.02]),
 (-2.12,[1.3]),(-2.2,[-1.88]),(-2.3,[-2.11,1.16]),
 (-2.42,[1.46]),(-2.43,[1]),(-2.61,[-1.31]),(-2.65,[-1.08,1.37,.02]),(-2.67,[-.87,-.09]),
 (-2.71,[1.73]),(-2.85,[1.94]),(-2.97,[1.25]),(-2.96,[-.3]),(-2.98,[-.38,.3]),
 (-3.1,[-1.46,.71]),(-3.11,[-1.03]),(-3.14,[-.96,1.73]),(-3.16,[.95]),(-3.2,[-1.15]),(-3.24,[.04]),(-3.25,[-2.54,.42]),(-3.34,[.15]),(-3.35,[.29,1.61]),
 (-3.37,[.84]),(-3.4,[-3.0,-1.02]),(-3.44,[-1.09,-.71]),(-3.47,[-.34,-.18]),(-3.54,[-.02]),(-3.7,[-.46]),(-3.74,[.29]),(-3.76,[-.96]),
 (-3.78,[-.35]),(-3.92,[-2.2]),(-3.97,[.7]),(-4.05,[.33,.42,1.25]),(-4.2,[.28]),(-5.68,[0]),
]
s2048_right_dense = [
 (1.45,[-1.5,-1.4,-1.3,-1.2,-1.1,-1]),
 (1.2,[-1.65,-1.55,-1.45,-1.35,-1.25,-1.15,-1.05,-.95,-.85,-.75,-.45]),
 (1,[-1.75,-1.65,-1.55,-1.45,-1.35,-1.25,-1.15,-1.05,-.95,-.85,-.75,-.65,-.55]),
 (.8,[-1.9,-1.8,-1.7,-1.6,-1.5,-1.4,-1.3,-1.2,-1.1,-1,-.9,-.8,-.7,-.6,-.5,-.4,-.3,-.2,-.1]),
 (.7,[-1.85,-1.65,-1.45,-1.25,-1.05,-.85,-.65,-.45,-.25,-.05]),
 (.6,[-2,-1.9,-1.8,-1.7,-1.6,-1.5,-1.4,-1.3,-1.2,-1.1,-1,-.9,-.8,-.7,-.6,-.5,-.4,-.3,-.2,-.1,0,.1,.2]),
 (.5,[-1.95,-1.75,-1.55,-1.35,-1.15,-.95,-.75,-.55,-.35,-.15,.05,.25]),
 (.4,[-2.1,-2,-1.9,-1.8,-1.7,-1.6,-1.5,-1.4,-1.3,-1.2,-1.1,-1,-.9,-.8,-.7,-.6,-.5,-.4,-.3,-.2,-.1,0,.1,.2,.3]),
 (.3,[-2.05,-1.85,-1.65,-1.45,-1.25,-1.05,-.85,-.65,-.45,-.25,-.05,.15,.35]),
 (.2,[-2.1,-2,-1.9,-1.8,-1.7,-1.6,-1.5,-1.4,-1.3,-1.2,-1.1,-1,-.9,-.8,-.7,-.6,-.5,-.4,-.3,-.2,-.1,0,.1,.2,.3,.45]),
 (0,[-2.05,-1.95,-1.85,-1.75,-1.65,-1.55,-1.45,-1.35,-1.25,-1.15,-1.05,-.95,-.85,-.75,-.65,-.55,-.45,-.35,-.25,-.15,-.05,.05,.15,.25,.35,.45,.6]),
 (-.2,[-2,-1.9,-1.8,-1.7,-1.6,-1.5,-1.4,-1.3,-1.2,-1.1,-1,-.9,-.8,-.7,-.6,-.5,-.4,-.3,-.2,-.1,0,.1,.2,.3,.4,.5,.6,.75]),
 (-.3,[-1.95,-1.75,-1.55,-1.35,-1.15,-.95,-.75,-.55,-.35,-.15,.05,.25,.45,.55,.7]),
 (-.4,[-2,-1.9,-1.8,-1.7,-1.6,-1.5,-1.4,-1.3,-1.2,-1.1,-1,-.9,-.8,-.7,-.6,-.5,-.4,-.3,-.2,-.1,0,.1,.2,.3,.4,.5,.6,.7,.85]),
 (-.5,[-1.95,-1.75,-1.55,-1.35,-1.15,-.95,-.75,-.55,-.35,-.15,.05,.25,.45,.65,.75,.85]),
 (-.6,[-2,-1.9,-1.8,-1.7,-1.6,-1.5,-1.4,-1.3,-1.2,-1.1,-1,-.9,-.8,-.7,-.6,-.5,-.4,-.3,-.2,-.1,0,.1,.2,.3,.4,.5,.6,.7,.8,.95]),
 (-.8,[-1.95,-1.85,-1.75,-1.65,-1.55,-1.45,-1.35,-1.25,-1.15,-1.05,-.95,-.85,-.75,-.65,-.55,-.45,-.35,-.25,-.15,-.05,.05,.15,.25,.35,.45,.55,.65,.75,.85,.95,1.05]),
 (-1,[-1.9,-1.8,-1.7,-1.6,-1.5,-1.4,-1.3,-1.2,-1.1,-1,-.9,-.8,-.7,-.6,-.5,-.4,-.3,-.2,-.1,0,.1,.2,.3,.4,.5,.6,.7,.8,.9,1,1.1]),
 (-1.2,[-1.85,-1.75,-1.65,-1.55,-1.45,-1.35,-1.25,-1.15,-1.05,-.95,-.85,-.75,-.65,-.55,-.45,-.35,-.25,-.15,-.05,.05,.15,.25,.35,.45,.55,.65,.75,.85,.95,1.05]),
 (-1.4,[-1.7,-1.6,-1.5,-1.4,-1.3,-1.2,-1.1,-1,-.9,-.8,-.7,-.6,-.5,-.4,-.3,-.2,-.1,0,.1,.2,.3,.4,.5,.6,.7,.8,.9,1]),
 (-1.5,[-1.65,-1.45,-1.25,-1.05,-.85,-.65,-.45,-.25,-.05,.15,.35,.55,.75,.85,.95]),
 (-1.6,[-1.6,-1.5,-1.4,-1.3,-1.2,-1.1,-1,-.9,-.8,-.7,-.6,-.5,-.4,-.3,-.2,-.1,0,.1,.2,.3,.4,.5,.6,.7,.8,.9,1]),
 (-1.7,[-1.55,-1.35,-1.15,-.95,-.75,-.55,-.35,-.15,.05,.25,.45,.65,.75,.85,.95]),
 (-1.8,[-1.5,-1.4,-1.3,-1.2,-1.1,-1,-.9,-.8,-.7,-.6,-.5,-.4,-.3,-.2,-.1,0,.1,.2,.3,.4,.5,.6,.7,.8,.95]),
 (-2,[-1.35,-1.25,-1.15,-1.05,-.95,-.85,-.75,-.65,-.55,-.45,-.35,-.25,-.15,-.05,.05,.15,.25,.35,.45,.55,.65,.75,.85]),
 (-2.2,[-1.2,-1.1,-1,-.9,-.8,-.7,-.6,-.5,-.4,-.3,-.2,-.1,0,.1,.2,.3,.4,.5,.6,.7,.85]),
 (-2.3,[-1.15,-.95,-.75,-.55,-.35,-.15,.05,.25,.45,.65,.75]),
 (-2.4,[-1.1,-1,-.9,-.8,-.7,-.6,-.5,-.4,-.3,-.2,-.1,0,.1,.2,.3,.4,.5,.6,.7,.85]),
 (-2.5,[-1.05,-.85,-.65,-.45,-.25,-.05,.15,.35,.55,.75]),
 (-2.6,[-1,-.9,-.8,-.7,-.6,-.5,-.4,-.3,-.2,-.1,0,.1,.2,.3,.4,.5,.6,.8]),
 (-2.8,[-.75,-.65,-.55,-.45,-.35,-.25,-.15,-.05,.05,.15,.25,.35,.45,.6]),
 (-2.95,[-.55,-.25,-.1,.05,.2,.35]),
]
s512_right = [
 (1.97,[-1.28]),(1.83,[-1.56]),(1.78,[-1.19]),(1.68,[-1.43]),(1.66,[-1.34]),(1.61,[.11]),(1.54,[-1.29]),(1.47,[-.69]),
 (1.43,[-1.13]),(1.32,[-1.72]),(1.12,[-.79]),(1.05,[-2.63]),(1.04,[-1.03]),(.94,[-1.39]),(.92,[-.56]),(.9,[-1.58,-.8]),
 (.88,[-1.04]),(.87,[-.42]),(.83,[-1.89]),(.81,[-1.66]),(.78,[-1.39,-.74]),(.68,[-.3]),(.62,[-.74,.31]),(.58,[-.94]),
 (.54,[-1.45,-1.25]),(.52,[-1.78,-1,-.16]),(.47,[0]),(.38,[-.45]),(.34,[-1.58]),(.32,[-1.4]),(.3,[-.34,-.11]),
 (.22,[-1.71,-.96]),(.2,[-.27,-1.25,-1.1]),(.18,[-.53]),(.14,[.34]),(.1,[-1.5,-1.3,-.85]),(.06,[.07]),(.04,[-.06]),
 (.02,[-.38]),(0,[-.12,-.55,-1.65]),(-.05,[-1.4,-1.2,-.75,-.95]),(-.14,[-.31,-.5]),(-.15,[-1.5,-1.3,-1.1,-.9,-.7,-.15,0]),
 (-.2,[.15]),(-.21,[.44]),(-.3,[-.07,-1.5,-1.3,-.95,-.45,-.25]),(-.34,[-.45]),(-.35,[.05,-1.1]),(-.36,[-1.6]),(-.46,[.6,-.8]),
 (-.45,[-1.4,-1.2,-.95,-.3,-.1,.1]),(-.49,[-.31]),(-.53,[.34]),(-.57,[-1.71]),(-.6,[-1.5,-1.3,-.95,-.7,-.45,-.25,-.05,.15]),
 (-.61,[.16]),(-.75,[-1.4,-1.2,-.85,-.6,-.35,-.15,.05,.25]),(-.79,[-1.98]),(-.83,[.84]),(-.9,[-1.5,-1.25,-1,-.75,-.4,-.2,0,.2,.4]),
 (-1.05,[-1.4,-1.2,-.9,-.55,-.3,-.1,.1,.25]),(-1.2,[-1.5,-1.1,-.75,-.35,-.15,.05,.22]),(-1.23,[.6]),(-1.27,[.91]),(-1.28,[1.03]),
 (-1.35,[-1.15,-.65,-.25,-.05,.15]),(-1.5,[-1.3,-.75,-.4,0,.15,.35]),(-1.54,[.53]),(-1.61,[-1.42]),(-1.65,[-1.05,-.6,-.25,.35,.5]),
 (-1.72,[-1.62]),(-1.8,[-1.3,-.85,-.5,.0,.2,.45]),(-1.81,[.55]),(-1.95,[-.9,-.55,.0,.2,.4]),(-2.02,[.69]),(-2.07,[.53]),(-2.1,[-1.1,-.7,-.35,-.1,.1,.35,.5]),
 (-2.23,[-.96]),(-2.25,[-.65,-.3,.1,.3]),(-2.4,[-.4,-.15,.1,.25]),(-2.45,[.75]),(-2.5,[.84]),(-2.55,[-.45,-.2]),(-2.76,[-1.22,.73]),(-2.98,[-.48]),
 (-3.03,[.51]),(-3.07,[-.11]),(-3.25,[-.47]),(-3.89,[-.07]),
 (-.68,[-.5,-.3,-.1,.1,.3]),(-.82,[-.5,-.3,-.1,.1,.3]),(-.97,[-.45,-.2,0,.2,.35]),(-1.12,[-.45,-.25,-.05,.15,.3]),(-1.28,[-.45,-.15,.05]),
 (-.25,[-.6,-.35,-.2,-.02]),(-.4,[-.6,-.4,-.2,0]),(-.52,[-.55,-.35,-.15,.05]),(-1.45,[-.55,-.2,.05,.25]),(-1.72,[-.4,.1,.3]),
 (-1.38,[-.35,-.1,.3]),(-1.55,[-.45,-.3,-.1,.1,.28]),(-1.85,[-.3,-.12,.12,.32,.52]),(-2.02,[-.45,-.2,.1,.3,.5]),
 (-2.18,[-.5,-.2,0,.22,.42]),(-2.32,[-.55,-.25,-.05,.18,.38]),(-2.48,[-.35,-.05,.18]),
 (-.1,[-1.6,-1.3,-.85,-.62]),(.12,[-1.4,-1.15,-.7]),(.32,[-1.25,-1.05,-.85,-.6]),(.45,[-1.35,-1.05,-.75]),
 (-.2,[-1.42,-1.2,-1.0,-.8]),(-.4,[-1.55,-1.25,-1.05,-.8]),(-.65,[-1.4,-1.15,-.85]),(-1.0,[-1.55,-1.3,-1.1,-.8]),
 (-1.3,[-1.4,-1.15,-.9,-.7]),(-1.55,[-1.2,-.9]),(-1.9,[-1.1,-.8]),(-2.2,[-.85,-1.0]),
]
s128_right = [
 (1.09,[-1.29]),(.75,[-1.1]),(.6,[-1.16]),(.54,[-.85]),(.52,[-1.54]),(.51,[-1.84]),(.32,[-1.12]),(.2,[-.56]),(.18,[-.65]),
 (.07,[-.73]),(-.06,[-.93,-1.14]),(-.28,[-1.72,-.49]),(-.46,[-1.22]),(-.53,[-.87]),(-.54,[-.32]),(-.63,[-.52]),(-.71,[-.71,-.42]),
 (-.85,[-1.2,-.95,-.75,-.55]),(-1.0,[-1.3,-1.0,-.7,-.45]),(-1.1,[-.21,-.85]),(-1.23,[-1.26,-1.03]),(-1.25,[-.8]),(-1.32,[-.33]),(-1.33,[-.52]),
 (-1.34,[-1.31]),(-1.45,[-.75]),(-1.52,[-1.11,-.17]),(-1.6,[-.04]),(-1.61,[-.89]),(-1.65,[-.96,-.45,-.75]),(-1.68,[-1.26,-.34]),(-1.72,[-.04]),
 (-1.74,[.36]),(-1.79,[-.2]),(-1.85,[-1.03,-.74,-1.12]),(-1.94,[-.89,-.34]),(-1.96,[-1.4]),(-2,[-.62]),(-2.02,[-1.6]),(-2.05,[-.29,-.75]),
 (-2.1,[-1.05]),(-2.14,[-1.26]),(-2.16,[-.11]),(-2.21,[-.48]),(-2.23,[-.81]),(-2.32,[-1.37]),(-2.34,[-1.2]),(-2.35,[-.16]),(-2.36,[-.62]),
 (-2.45,[-.32]),(-2.63,[-.53]),(-2.78,[-.17]),(-2.85,[-.9]),(-2.96,[-.73]),(-3.19,[-.32]),
 (-1.4,[-1.1,-.95,-.65]),(-1.15,[-1.15,-.95,-.7]),(-1.5,[-.95,-.7,-.6]),(-1.75,[-1.1,-.9,-.7]),(-1.95,[-1.15,-1.0,-.75]),
 (-1.1,[-1.05,-.7]),(-1.3,[-1.0,-.75,-.6]),(-1.6,[-.8,-1.1]),(-1.8,[-.85,-.6]),(-2.0,[-.95,-.8]),(-.8,[-1.0,-.65]),
]
s32_right = [
 (.18,[-1.93]),(.15,[-1.64]),(.08,[-1.26]),(.02,[-1.45]),(0,[-1.09]),(-.02,[-1.82]),(-.06,[-1.54]),(-.12,[-1.33]),(-.24,[-1.42]),
 (-.36,[-1.85]),(-.44,[-1.6]),(-.4,[-.91]),(-.5,[-1.71]),(-.51,[-1.83,-1.07]),(-.55,[-1.2]),(-.59,[-1.48,-1.14]),(-.71,[-1.43,-1.2,-1.1]),
 (-.87,[-2.09,-1.35]),(-.94,[-1.4]),(-.99,[-1.6,-1.11]),(-1.16,[-1.58]),(-1.28,[-1.62]),(-1.73,[-1.71]),(-.8,[-1.5]),(-.75,[-1.32]),
]
s8_right = [
 (.11,[-1.16]),(.07,[-.59]),(-.14,[-.91]),(-.17,[-1.02]),(-.2,[-.73]),(-.33,[-.86]),(-.67,[-.94]),(-.99,[-.83]),
]

left_panel = {"MCMC": mcmc_left + mcmc_left_dense, "2048": s2048_left + s2048_left_dense, "512": s512_left,
              "128": s128_left, "32": s32_left, "8": s8_left}
right_panel = {"MCMC": mcmc_right + mcmc_right_dense, "2048": s2048_right + s2048_right_dense, "512": s512_right,
               "128": s128_right, "32": s32_right, "8": s8_right}


def unpack(rows):
    xs, ys = [], []
    for y, row in rows:
        for x in row:
            xs.append(x)
            ys.append(y)
    return xs, ys


fig = go.Figure()

for name in series_order:
    for rows, xa, ya, first in ((left_panel[name], "x", "y", True), (right_panel[name], "x2", "y2", False)):
        xs, ys = unpack(rows)
        fig.add_trace(go.Scatter(
            x=xs, y=ys, xaxis=xa, yaxis=ya, mode="markers", name=name,
            legendgroup=name, showlegend=first, hoverinfo="skip", legendrank=legend_order.index(name) + 1,
            marker=dict(size=16, color=COLORS[name], line=dict(width=6, color=COLORS[name])),
        ))

# Reference crosshair in each panel
for xa, ya, yr, yref_val in (("x", "y", y_range_left, ref_u1), ("x2", "y2", y_range_right, ref_u2)):
    dash = dict(color="black", width=7.5, dash="30.5px,13.5px")
    fig.add_trace(go.Scatter(x=[ref_u0, ref_u0], y=yr, xaxis=xa, yaxis=ya, mode="lines", line=dash,
                             showlegend=False, hoverinfo="skip"))
    fig.add_trace(go.Scatter(x=x_range, y=[yref_val, yref_val], xaxis=xa, yaxis=ya, mode="lines", line=dash,
                             showlegend=False, hoverinfo="skip"))

INK = "#262626"
axis_style = dict(showline=True, linewidth=3.5, linecolor=INK, mirror=True, ticks="outside", ticklen=14, tickwidth=3.5,
                  tickcolor=INK, showgrid=False, zeroline=False, tickfont=dict(size=33, color=INK))
title_font = dict(size=38, color=INK)
U0_TITLE = "<i>u</i>′<sub>0</sub>"

W, H = 2700, 1200
fig.update_layout(
    width=W, height=H, margin=dict(l=0, r=0, t=0, b=0, autoexpand=False), paper_bgcolor="white", plot_bgcolor="white",
    font=dict(family="Liberation Sans, Arial, sans-serif", color=INK),
    xaxis=dict(domain=[338 / W, 1290 / W], range=x_range, tickvals=x_ticks, anchor="y",
               title=dict(text=U0_TITLE, font=title_font, standoff=10), **axis_style),
    yaxis=dict(domain=[1 - 1049 / H, 1 - 143 / H], range=y_range_left, tickvals=y_ticks_left, anchor="x",
               title=dict(text="<i>u</i>′<sub>1</sub>", font=title_font, standoff=14), **axis_style),
    xaxis2=dict(domain=[1479 / W, 2430 / W], range=x_range, tickvals=x_ticks, anchor="y2",
                title=dict(text=U0_TITLE, font=title_font, standoff=10), **axis_style),
    yaxis2=dict(domain=[1 - 1049 / H, 1 - 143 / H], range=y_range_right, tickvals=y_ticks_right, anchor="x2",
                title=dict(text="<i>u</i>′<sub>2</sub>", font=title_font, standoff=14), **axis_style),
    legend=dict(x=2465 / W, y=1 - 371 / H, xanchor="left", yanchor="top", traceorder="grouped",
                tracegroupgap=5, itemwidth=114, itemsizing="trace", font=dict(size=31, color=INK),
                bgcolor="rgba(0,0,0,0)"),
)

fig.write_html("out.html")
